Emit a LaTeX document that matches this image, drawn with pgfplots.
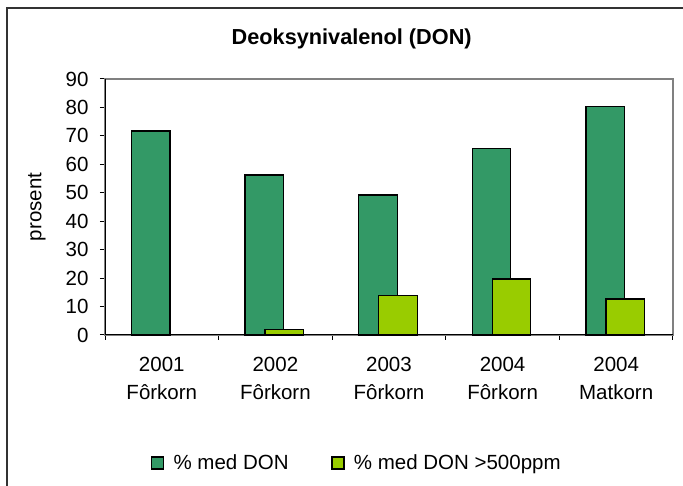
\documentclass[border=0pt]{standalone}
\usepackage{fontspec}
\setmainfont{Liberation Sans}
\usepackage{pgfplots}
\pgfplotsset{compat=1.18}

\definecolor{donA}{RGB}{51,153,102}
\definecolor{donB}{RGB}{153,204,0}

\begin{document}
\begin{tikzpicture}
\useasboundingbox (0pt,0pt) rectangle (683pt,486pt);
% outer chart frame (only left and top edges are visible)
\draw[black!80, line width=1.5pt] (7pt,-20pt) -- (7pt,478pt) -- (700pt,478pt);
\node[anchor=base, font=\bfseries\fontsize{21.7}{26}\selectfont] at (351.7pt,441pt) {Deoksynivalenol (DON)};

\begin{axis}[
  at={(105pt,151pt)}, anchor=south west,
  scale only axis, width=568pt, height=256pt,
  xmin=-0.5, xmax=4.5, ymin=0, ymax=90,
  ytick={0,10,...,90},
  xtick={-0.5,0.5,1.5,2.5,3.5,4.5}, xticklabels={},
  extra x ticks={0,1,2,3,4},
  extra x tick labels={{2001\\Fôrkorn},{2002\\Fôrkorn},{2003\\Fôrkorn},{2004\\Fôrkorn},{2004\\Matkorn}},
  extra x tick style={major tick length=0pt, xticklabel style={yshift=-19pt}},
  tick pos=left, tick align=outside, major tick length=5pt,
  tick style={black, line width=1pt},
  axis line style={draw=gray, line width=1.3pt},
  /pgf/number format/assume math mode=true,
  ticklabel style={font=\fontsize{20.5}{27.5}\selectfont},
  xticklabel style={align=center},
  yticklabel style={xshift=-8pt},
  ylabel={prosent},
  ylabel style={at={(axis description cs:-0.12,0.5)}, anchor=center, font=\fontsize{20.5}{24}\selectfont},
  clip=false,
  legend columns=2,
  legend style={draw=none, fill=none, inner sep=0pt, at={(axis description cs:0.0805,-0.5)}, anchor=west,
    font=\fontsize{20.5}{24}\selectfont,
    nodes={inner sep=0pt},
    /tikz/every odd column/.style={column sep=9.3pt},
    /tikz/every even column/.style={column sep=42.7pt}},
]
\addplot[ybar, bar width=38.5pt, bar shift=-11pt, fill=donA, draw=black, line width=1.3pt,
  legend image code/.code={\draw[fill=donA, draw=black, line width=1.3pt] (0pt,-6pt) rectangle (12pt,6pt);}]
  coordinates {(0,71.7) (1,56.3) (2,49.2) (3,65.5) (4,80.3)};
\addlegendentry{\% med DON}
\addplot[ybar, bar width=38.5pt, bar shift=9pt, fill=donB, draw=black, line width=1.3pt,
  legend image code/.code={\draw[fill=donB, draw=black, line width=1.3pt] (0pt,-6pt) rectangle (12pt,6pt);}]
  coordinates {(1,2.0) (2,14.0) (3,19.7) (4,12.7)};
\addlegendentry{\% med DON >500ppm}
\draw[black, line width=1pt] (rel axis cs:0,1) -- (rel axis cs:0,0) -- (rel axis cs:1,0);
\end{axis}
\end{tikzpicture}
\end{document}
